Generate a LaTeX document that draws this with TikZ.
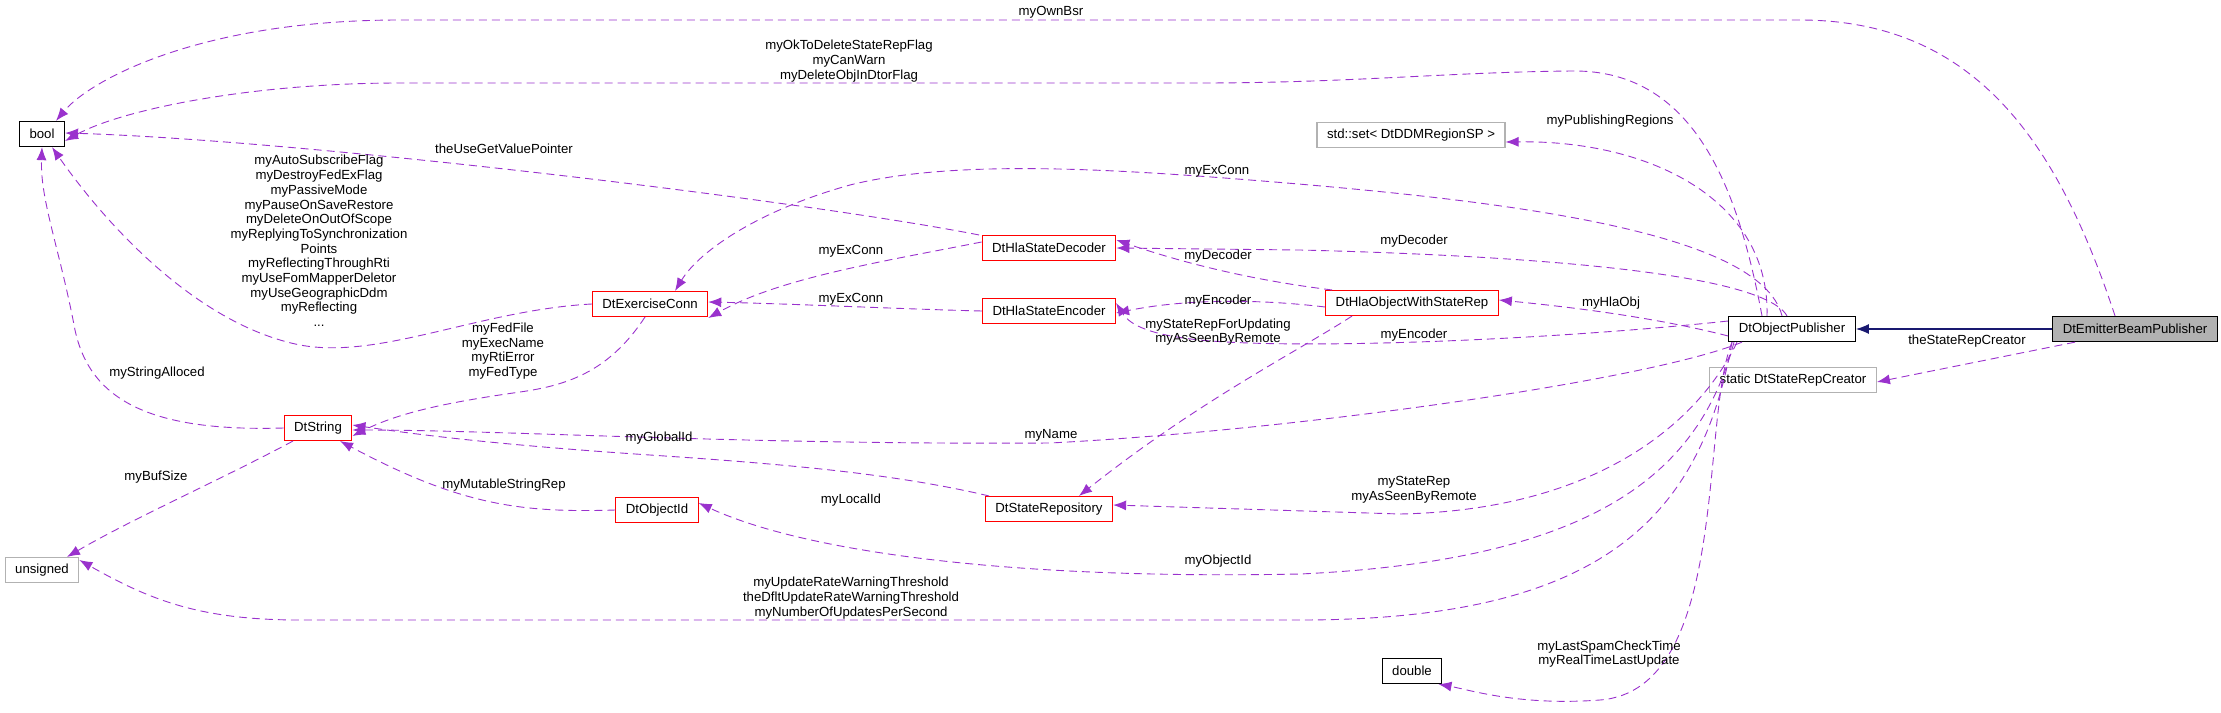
\documentclass[tikz,border=0pt]{standalone}
\usepackage{fontspec}
\setmainfont{Liberation Sans}
\usetikzlibrary{arrows.meta}
\definecolor{mem}{HTML}{9A32CD}
\definecolor{inh}{HTML}{191970}
\begin{document}
\begin{tikzpicture}[x=1pt,y=-1pt,font=\fontsize{13.2}{14.7}\selectfont,
 box/.style={draw=black,line width=1.3pt,minimum height=25pt,inner xsep=10pt,inner ysep=2pt,anchor=center},
 red/.style={box,draw=red,line width=1.1pt},
 gray/.style={box,draw=black!30,line width=1.1pt},
 m/.style={draw=mem,dashed,dash pattern=on 8pt off 5pt,line width=0.9pt,-{Latex[length=13pt,width=10pt]}},
 lbl/.style={align=center,inner sep=0pt}]
\useasboundingbox (0,0) rectangle (2221,712);
\node[box] (bool) at (42,134) {bool};
\node[gray] (set) at (1411,135) {std::set< DtDDMRegionSP >};
\node[red] (dec) at (1049,248) {DtHlaStateDecoder};
\node[red] (exc) at (650,304) {DtExerciseConn};
\node[red] (enc) at (1049,311) {DtHlaStateEncoder};
\node[red] (hla) at (1412,303) {DtHlaObjectWithStateRep};
\node[box] (pub) at (1792,329) {DtObjectPublisher};
\node[box,fill=black!30] (emi) at (2135,329) {DtEmitterBeamPublisher};
\node[gray] (src) at (1793,380) {static DtStateRepCreator};
\node[red] (str) at (318,428) {DtString};
\node[gray] (uns) at (42,570) {unsigned};
\node[red] (oid) at (657,510) {DtObjectId};
\node[red] (rep) at (1049,509) {DtStateRepository};
\node[box] (dbl) at (1412,671) {double};

\draw[draw=inh,line width=1.3pt,-{Latex[length=13pt,width=10pt]}] (emi.west) -- (pub.east);

% to bool
\draw[m] ([xshift=-20pt]emi.north) .. controls (2060,150) and (1980,20) .. (1800,20) -- (400,20) .. controls (200,20) and (90,80) .. ([xshift=14pt]bool.north);
\draw[m] ([xshift=-30pt]pub.north) .. controls (1740,200) and (1700,70) .. (1573,71) .. controls (1450,72) and (1350,83) .. (1200,83) -- (400,83) .. controls (250,83) and (120,110) .. ([yshift=-7pt]bool.east);
\draw[m] ([xshift=-70pt]dec.north) .. controls (800,200) and (300,140) .. ([yshift=1pt]bool.east);
\draw[m] (exc.west) .. controls (480,310) and (380,360) .. (300,345) .. controls (200,325) and (110,230) .. ([xshift=10pt]bool.south);
\draw[m] (str.west) .. controls (150,432) and (90,400) .. (75,330) .. controls (60,250) and (40,200) .. ([xshift=0pt]bool.south);
% DtString
\draw[m] ([xshift=-25pt]str.south) .. controls (220,480) and (130,520) .. ([xshift=25pt]uns.north);
\draw[m] ([xshift=-5pt]exc.south) .. controls (610,370) and (570,385) .. (520,392) .. controls (450,402) and (400,412) .. ([yshift=-8pt]str.east);
\draw[m] (oid.west) .. controls (520,513) and (460,505) .. ([xshift=22pt]str.south);
\draw[m] ([xshift=-60pt]rep.north) .. controls (900,475) and (800,465) .. (650,455) .. controls (500,445) and (420,435) .. ([yshift=3pt]str.east);
\draw[m] ([xshift=-50pt]pub.south) .. controls (1650,380) and (1300,430) .. (1050,443) .. controls (750,445) and (500,430) .. ([yshift=-2pt]str.east);
% Exercise conn
\draw[m] ([yshift=6pt]dec.west) .. controls (880,262) and (780,278) .. ([yshift=-14pt]exc.east);
\draw[m] (enc.west) .. controls (900,309) and (800,304) .. ([yshift=2pt]exc.east);
\draw[m] ([xshift=-10pt]pub.north) .. controls (1760,230) and (1500,200) .. (1250,180) .. controls (1100,168) and (950,160) .. (850,185) .. controls (760,210) and (700,250) .. ([xshift=25pt]exc.north);
% decoder / encoder
\draw[m] ([xshift=-5pt]pub.north) .. controls (1760,270) and (1500,255) .. (1300,250) -- (dec.east);
\draw[m] ([xshift=-80pt]hla.north) .. controls (1250,280) and (1180,262) .. ([yshift=8pt]dec.east);
\draw[m] ([yshift=-4pt]hla.west) .. controls (1250,298) and (1180,300) .. ([yshift=-2pt]enc.east);
\draw[m] ([yshift=8pt]pub.west) .. controls (1550,340) and (1300,350) .. (1200,340) .. controls (1150,335) and (1130,325) .. ([yshift=8pt]enc.east);
\draw[m] ([xshift=-60pt]hla.south) .. controls (1300,350) and (1200,400) .. ([xshift=30pt]rep.north);
\draw[m] ([yshift=-7pt]pub.west) .. controls (1650,316) and (1560,306) .. ([yshift=3pt]hla.east);
\draw[m] ([xshift=-25pt]pub.north) .. controls (1770,200) and (1650,140) .. ([yshift=-7pt]set.east);
\draw[m] ([xshift=-60pt]emi.south) -- ([yshift=-2pt]src.east);
% lower
\draw[m] ([xshift=-55pt]pub.south) .. controls (1700,420) and (1600,510) .. (1400,514) -- ([yshift=4pt]rep.east);
\draw[m] ([xshift=-58pt]pub.south) .. controls (1700,470) and (1600,560) .. (1300,574) .. controls (1000,580) and (800,550) .. ([yshift=7pt]oid.east);
\draw[m] ([xshift=-60pt]pub.south) .. controls (1700,520) and (1600,620) .. (1300,620) -- (300,620) .. controls (200,620) and (150,600) .. ([yshift=10pt]uns.east);
\draw[m] ([xshift=-60pt]pub.south) .. controls (1700,420) and (1730,690) .. (1600,700) .. controls (1520,706) and (1470,690) .. ([xshift=-4pt]dbl.south east);

\node[lbl] (l1) at (1051,12) {myOwnBsr};
\node[lbl] (l2) at (849,61) {myOkToDeleteStateRepFlag\\myCanWarn\\myDeleteObjInDtorFlag};
\node[lbl] (l3) at (504,149) {theUseGetValuePointer};
\node[lbl] (l4) at (319,241) {myAutoSubscribeFlag\\myDestroyFedExFlag\\myPassiveMode\\myPauseOnSaveRestore\\myDeleteOnOutOfScope\\myReplyingToSynchronization\\Points\\myReflectingThroughRti\\myUseFomMapperDeletor\\myUseGeographicDdm\\myReflecting\\...};
\node[lbl] (l5) at (503,351) {myFedFile\\myExecName\\myRtiError\\myFedType};
\node[lbl] (l6) at (157,373) {myStringAlloced};
\node[lbl] (l7) at (156,477) {myBufSize};
\node[lbl] (l8) at (504,485) {myMutableStringRep};
\node[lbl] (l9) at (659,438) {myGlobalId};
\node[lbl] (l10) at (1051,435) {myName};
\node[lbl] (l11) at (1217,171) {myExConn};
\node[lbl] (l12) at (851,251) {myExConn};
\node[lbl] (l13) at (851,299) {myExConn};
\node[lbl] (l14) at (1414,241) {myDecoder};
\node[lbl] (l15) at (1218,256) {myDecoder};
\node[lbl] (l16) at (1218,301) {myEncoder};
\node[lbl] (l17) at (1218,332) {myStateRepForUpdating\\myAsSeenByRemote};
\node[lbl] (l18) at (1414,335) {myEncoder};
\node[lbl] (l19) at (1611,303) {myHlaObj};
\node[lbl] (l20) at (1610,121) {myPublishingRegions};
\node[lbl] (l21) at (1967,341) {theStateRepCreator};
\node[lbl] (l22) at (1414,490) {myStateRep\\myAsSeenByRemote};
\node[lbl] (l23) at (1218,561) {myObjectId};
\node[lbl] (l24) at (851,500) {myLocalId};
\node[lbl] (l25) at (851,598) {myUpdateRateWarningThreshold\\theDfltUpdateRateWarningThreshold\\myNumberOfUpdatesPerSecond};
\node[lbl] (l26) at (1609,654) {myLastSpamCheckTime\\myRealTimeLastUpdate};
\end{tikzpicture}
\end{document}
